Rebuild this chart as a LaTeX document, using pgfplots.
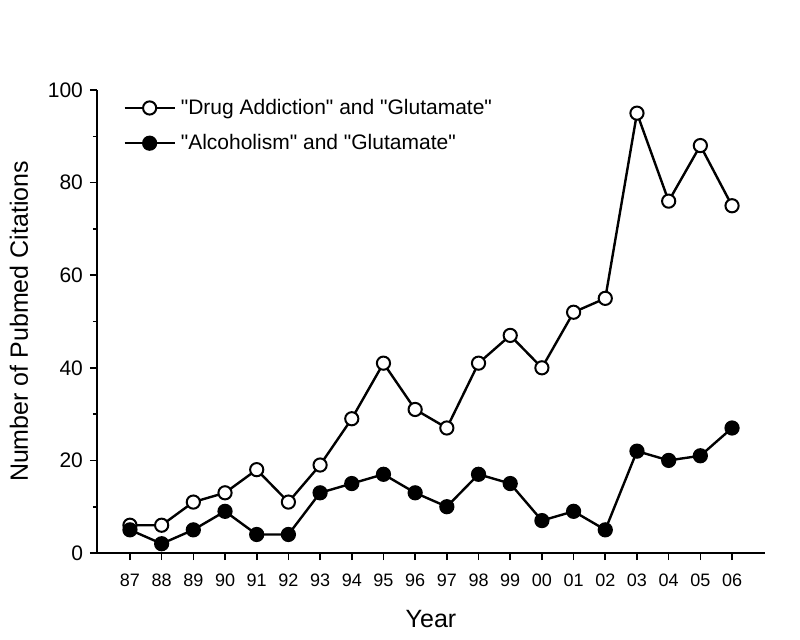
\documentclass[border=0pt]{standalone}
\usepackage{fontspec}
\setmainfont{Liberation Sans}[Ligatures=TeXOff]
\usepackage{pgfplots}
\pgfplotsset{compat=1.18}
\pgfplotstableread{
x drug alc
0 6 5
1 6 2
2 11 5
3 13 9
4 18 4
5 11 4
6 19 13
7 29 15
8 41 17
9 31 13
10 27 10
11 41 17
12 47 15
13 40 7
14 52 9
15 55 5
16 95 22
17 76 20
18 88 21
19 75 27
}\datatable
\begin{document}
\begin{tikzpicture}
\begin{axis}[name=ax, scale only axis, width=334pt, height=231.5pt,
  xmin=-1.04, xmax=20.04, ymin=0, ymax=100,
  axis x line=bottom, axis y line=left,
  axis line style={-, line width=0.8pt},
  every tick/.style={black, line width=0.8pt},
  xtick={0,...,19},
  xticklabels={87,88,89,90,91,92,93,94,95,96,97,98,99,00,01,02,03,04,05,06},
  ytick={0,20,40,60,80,100}, minor ytick={10,30,50,70,90},
  tick align=outside, major tick length=3.5pt, minor tick length=2pt,
  /pgf/number format/assume math mode=true,
  yticklabel style={font=\fontsize{10.5}{12}\selectfont},
  xticklabel style={font=\fontsize{9}{10}\selectfont, yshift=-3.5pt},
  xlabel={Year}, ylabel={Number of Pubmed Citations},
  label style={font=\fontsize{12.5}{15}\selectfont},
  xlabel shift=5pt, ylabel shift=3pt,
  legend style={at={(0.03,0.999)}, anchor=north west, draw=none, fill=none,
    font=\fontsize{10.5}{12}\selectfont, row sep=4.5pt,
    nodes={inner xsep=2.5pt}},
  legend cell align=left,
  legend image code/.code={
    \draw[#1, mark=none] (0pt,0pt) -- (25pt,0pt);
    \draw[#1, only marks] plot coordinates {(12.5pt,0pt)};
  },
  clip=false,
]
\addplot[black, line width=1.2pt, mark=*, mark size=3.3pt, mark options={fill=white, line width=1pt}] table[x=x, y=drug] {\datatable};
\addlegendentry{"Drug Addiction" and "Glutamate"}
\addplot[black, line width=1.2pt, mark=*, mark size=3.3pt, mark options={fill=black, line width=1pt}] table[x=x, y=alc] {\datatable};
\addlegendentry{"Alcoholism" and "Glutamate"}
\end{axis}
\path[use as bounding box] ([xshift=-48.5pt, yshift=-43pt]ax.south west) rectangle ([xshift=17.5pt, yshift=45pt]ax.north east);
\end{tikzpicture}
\end{document}
